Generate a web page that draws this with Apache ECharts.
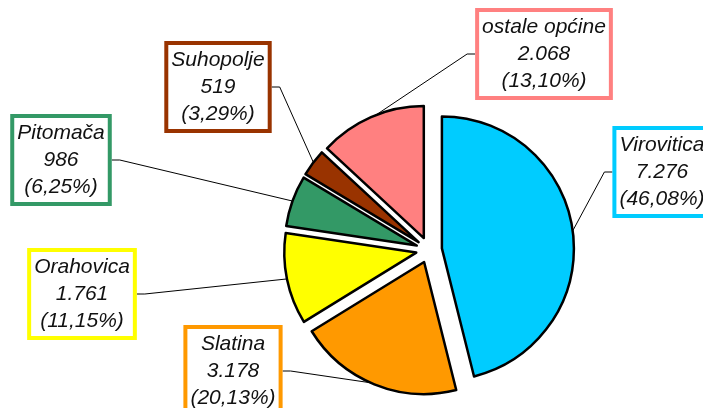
<!DOCTYPE html>
<html><head><meta charset="utf-8">
<script src="https://cdn.jsdelivr.net/npm/echarts@6/dist/echarts.min.js"></script>
<style>html,body{margin:0;padding:0;background:#fff}#c{width:703px;height:408px}</style>
</head><body><div id="c"></div>
<script>
const categories = ['Virovitica', 'Slatina', 'Orahovica', 'Pitomača', 'Suhopolje', 'ostale općine'];
const values = [7276, 3178, 1761, 986, 519, 2068];
const percentLabels = ['46,08', '20,13', '11,15', '6,25', '3,29', '13,10'];
const colors = ['#00CCFF', '#FF9900', '#FFFF00', '#339966', '#993300', '#FF8080'];

// label box centres (layout only)
const labelCenters = [[662, 172], [233, 371], [82, 294], [61, 160], [218, 87], [544, 54]];

function fmt(v) { return String(v).replace(/\B(?=(\d{3})+(?!\d))/g, '.'); }

const chart = echarts.init(document.getElementById('c'), null, { renderer: 'canvas' });
chart.setOption({
  animation: false,
  series: [{
    // exploded slices
    type: 'pie',
    z: 3,
    center: [429, 250],
    radius: 132,
    startAngle: 90,
    clockwise: true,
    selectedMode: 'multiple',
    selectedOffset: 13,
    silent: true,
    emphasis: { disabled: true },
    itemStyle: { borderColor: '#000', borderWidth: 2.5 },
    select: { itemStyle: { borderColor: '#000', borderWidth: 2.5 } },
    label: { show: false },
    labelLine: { show: false },
    data: categories.map((c, i) => ({
      name: c,
      value: values[i],
      selected: true,
      itemStyle: { color: colors[i] }
    }))
  }, {
    // labels and leader lines
    type: 'pie',
    z: 2,
    center: [429, 250],
    radius: 144,
    startAngle: 90,
    clockwise: true,
    silent: true,
    avoidLabelOverlap: false,
    emphasis: { disabled: true },
    itemStyle: { color: 'rgba(0,0,0,0)', borderWidth: 0 },
    label: {
      show: true,
      fontFamily: 'Liberation Sans, Arial, sans-serif',
      fontStyle: 'italic',
      fontSize: 21,
      lineHeight: 27,
      color: '#111',
      backgroundColor: '#fff',
      borderWidth: 4,
      padding: [2, 3, 1, 3],
      align: 'center',
      formatter: p => p.name + '\n' + fmt(p.value) + '\n(' + percentLabels[p.dataIndex] + '%)'
    },
    labelLine: { show: true, length: 10, length2: 8, lineStyle: { color: '#000', width: 1 } },
    labelLayout: p => ({
      x: labelCenters[p.dataIndex][0],
      y: labelCenters[p.dataIndex][1],
      align: 'center',
      verticalAlign: 'middle'
    }),
    data: categories.map((c, i) => ({
      name: c,
      value: values[i],
      label: { borderColor: colors[i] }
    }))
  }]
});
</script>
</body></html>
